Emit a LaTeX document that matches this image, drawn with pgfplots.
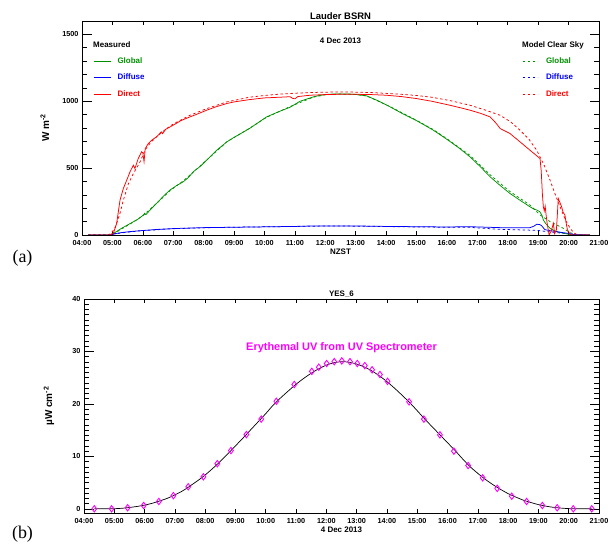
\documentclass[border=0pt]{standalone}
\usepackage{pgfplots}
\pgfplotsset{compat=1.18}
\usepackage{fontspec}
\setmainfont{Liberation Sans}
\newfontfamily\seriffont{Liberation Serif}

\definecolor{igreen}{RGB}{0,145,0}
\definecolor{iblue}{RGB}{0,0,255}
\definecolor{ired}{RGB}{255,0,0}
\definecolor{imag}{RGB}{255,0,255}

\newcommand\fs[1]{\bfseries\fontsize{#1}{#1}\selectfont}

\pgfplotsset{
  idl/.style={
    scale only axis, xmin=4, xmax=21,
    xtick={4,...,21},
    xticklabels={04:00,05:00,06:00,07:00,08:00,09:00,10:00,11:00,12:00,
                 13:00,14:00,15:00,16:00,17:00,18:00,19:00,20:00,21:00},
    tick align=inside,
    axis line style={line width=0.7bp},
    every tick/.style={black, line width=0.6bp},
    major tick length=9.5bp, minor tick length=5bp,
    xtick style={/pgfplots/major tick length=4bp},
    tick label style={font=\fs{7.3}},
    xticklabel style={yshift=-1.5bp},
    /pgf/number format/assume math mode=true,
    /pgf/number format/1000 sep={},
    xlabel style={at={(axis description cs:0.5,-0.08)}, anchor=center, font=\fs{8}},
    ylabel style={anchor=center, font=\fs{10}},
    title style={anchor=south, inner sep=0pt, yshift=-4.5bp},
  },
  meas/.style={line width=0.75bp},
  model/.style={line width=0.75bp, dash pattern=on 2.5bp off 2.5bp},
  % legend keys: a line sample and an empty gap before the text
  keyleg/.style 2 args={
    legend cell align=left,
    legend image code/.code={\draw[##1, line width=0.9bp] (0bp,0bp) -- (#1,0bp);
                             \path (#2,0bp);},
    legend style={draw=none, fill=none, inner sep=0pt, font=\fs{8}, row sep=8bp,
      nodes={inner sep=0.5bp, text height=6bp, text depth=1.5bp}},
  },
}

\begin{document}
\begin{tikzpicture}
\path[use as bounding box] (0,0) rectangle (613bp,544bp);

% (a) Lauder BSRN
\begin{axis}[idl,
    at={(82bp,309bp)}, anchor=south west, width=517bp, height=214bp,
    ymin=0, ymax=1600, ytick={0,500,1000,1500}, minor y tick num=4,
    title={Lauder BSRN}, title style={font=\fs{9.5}},
    xlabel={NZST},
    ylabel={W m\textsuperscript{-2}},
    ylabel style={at={(axis description cs:-0.072,0.5)}},
    keyleg={17bp}{23bp},
    legend style={at={(axis description cs:0.0213,0.834)}, anchor=north west},
  ]
\addplot[model, color=igreen, forget plot] coordinates {
(4.2,0)(4.9,0)(5.06,12)(5.3,45)(5.69,97)(6.02,148)(6.45,236)(6.89,330)(7.33,405)
(7.66,470)(8.1,560)(8.76,696)(9.5,797)(10.07,880)(10.84,960)(11.6,1030)(12.0,1048)
(12.5,1054)(13.0,1050)(13.36,1040)(14.13,960)(15.0,858)(15.55,788)(16.0,720)
(16.76,595)(17.42,450)(18.07,325)(18.73,224)(19.06,150)(19.39,100)(19.83,50)
(20.05,17)(20.3,0)(20.7,0)};
\addplot[model, color=iblue, forget plot] coordinates {
(4.2,0)(4.9,0)(5.03,6)(5.3,16)(5.91,31)(7.0,47)(8.0,54)(9.0,58)(10.0,61)(11.0,64)
(12.0,67)(12.5,67)(13.5,65)(15.0,60)(16.0,58)(16.76,57)(17.75,42)(18.95,35)
(19.5,20)(20.05,8)(20.3,0)(20.7,0)};
\addplot[model, color=ired, forget plot] coordinates {
(4.2,0)(4.85,0)(4.95,10)(5.1,60)(5.25,162)(5.36,261)(5.53,386)(5.69,460)(5.91,547)
(6.07,634)(6.25,690)(6.45,734)(6.75,790)(7.0,830)(7.55,895)(8.1,945)(8.76,995)
(9.5,1030)(10.0,1043)(10.5,1053)(11.0,1060)(11.5,1065)(12.0,1068)(12.5,1069)
(13.0,1068)(13.5,1065)(14.0,1059)(14.5,1052)(15.0,1043)(15.5,1030)(16.1,1005)
(16.76,970)(17.25,935)(17.75,895)(18.1,845)(18.4,784)(18.7,715)(18.95,634)
(19.2,520)(19.39,410)(19.55,310)(19.72,211)(19.9,110)(20.05,50)(20.18,15)
(20.3,0)(20.7,0)};

\addplot[meas, color=igreen] coordinates {
(4.2,0)(4.9,0)(5.06,15)(5.3,50)(5.5,75)(5.69,99)(5.85,120)(6.02,149)(6.06,162)
(6.1,152)(6.25,190)(6.45,236)(6.7,295)(6.89,336)(7.1,368)(7.33,398)(7.5,430)
(7.66,473)(7.9,515)(8.1,560)(8.4,628)(8.76,696)(9.0,730)(9.5,795)(10.07,883)
(10.5,925)(10.84,955)(11.17,1000)(11.6,1032)(11.8,1043)(12.0,1050)(12.25,1054)
(12.5,1055)(12.75,1054)(13.0,1051)(13.36,1040)(13.75,1002)(14.13,958)(14.5,912)
(15.0,855)(15.55,784)(16.0,715)(16.4,650)(16.76,584)(17.1,510)(17.42,435)
(17.75,370)(18.07,311)(18.4,260)(18.73,211)(18.85,195)(18.95,187)(19.05,175)
(19.12,150)(19.17,112)(19.25,85)(19.39,50)(19.55,30)(19.7,20)(19.9,10)(20.05,4)
(20.2,0)(20.7,0)};
\addlegendentry{\textcolor{igreen}{Global}}
\addplot[meas, color=iblue] coordinates {
(4.2,0)(4.9,0)(5.03,8)(5.3,18)(5.6,26)(5.91,32)(6.5,42)(7.0,48)(8.0,55)(9.0,58)
(10.0,61)(11.0,64)(11.5,67)(12.0,68)(12.5,68)(13.0,67)(13.5,66)(14.0,64)(15.0,62)
(16.0,60)(16.76,62)(17.75,55)(18.73,55)(18.85,65)(18.95,80)(19.05,78)(19.11,70)
(19.22,40)(19.4,32)(19.6,25)(19.8,18)(20.05,10)(20.2,2)(20.7,0)};
\addlegendentry{\textcolor{iblue}{Diffuse}}
\addplot[meas, color=ired] coordinates {
(4.2,0)(4.9,0)(5.03,12)(5.14,87)(5.25,261)(5.36,348)(5.47,410)(5.58,473)(5.69,522)
(5.74,497)(5.85,572)(5.96,622)(6.0,615)(6.04,547)(6.08,647)(6.18,684)(6.3,710)
(6.45,734)(6.61,771)(6.65,758)(6.75,790)(7.0,821)(7.25,855)(7.55,883)(7.8,905)
(8.1,933)(8.4,958)(8.76,983)(9.0,995)(9.5,1012)(10.0,1025)(10.5,1030)(10.84,1034)
(10.92,1022)(11.0,1018)(11.1,1035)(11.5,1045)(12.0,1050)(12.5,1052)(13.0,1052)
(13.5,1050)(14.0,1045)(14.5,1035)(15.0,1020)(15.5,1000)(16.1,970)(16.5,948)
(16.76,933)(17.1,910)(17.42,883)(17.6,840)(17.75,796)(18.07,759)(18.4,697)
(18.73,634)(19.06,572)(19.1,480)(19.14,300)(19.17,211)(19.2,180)(19.23,215)
(19.26,150)(19.3,80)(19.36,0)(19.43,30)(19.5,87)(19.54,10)(19.6,40)(19.63,150)
(19.66,273)(19.72,240)(19.77,211)(19.82,170)(19.88,149)(19.92,90)(19.96,40)
(20.05,5)(20.1,0)(20.7,0)};
\addlegendentry{\textcolor{ired}{Direct}}

\node[anchor=center, font=\fs{8}] at (axis description cs:0.5,0.909) {4 Dec 2013};
\node[anchor=west, inner sep=0pt, font=\fs{8}] at (axis description cs:0.0213,0.888) {Measured};
\node[anchor=west, inner sep=0pt, font=\fs{8}] at (axis description cs:0.851,0.888) {Model Clear Sky};
\end{axis}

% legend of the model curves
\begin{axis}[
    at={(82bp,309bp)}, anchor=south west, width=517bp, height=214bp,
    scale only axis, hide axis, xmin=0, xmax=1, ymin=0, ymax=1,
    keyleg={15bp}{22.5bp},
    legend style={at={(axis description cs:0.851,0.834)}, anchor=north west},
  ]
\addlegendimage{model, color=igreen}
\addlegendentry{\textcolor{igreen}{Global}}
\addlegendimage{model, color=iblue}
\addlegendentry{\textcolor{iblue}{Diffuse}}
\addlegendimage{model, color=ired}
\addlegendentry{\textcolor{ired}{Direct}}
\end{axis}

% (b) YES_6
\begin{axis}[idl,
    at={(84bp,31bp)}, anchor=south west, width=515bp, height=214bp,
    ymin=-0.8, ymax=40, ytick={0,10,20,30,40}, minor y tick num=9,
    title={YES\_6}, title style={font=\fs{8}},
    xlabel={4 Dec 2013},
    ylabel={\textmu W cm\textsuperscript{-2}},
    ylabel style={at={(axis description cs:-0.068,0.5)}},
  ]
\addplot[black, line width=0.7bp, smooth, tension=0.4] coordinates {
(4.34,0)(4.75,0)(5.0,0.02)(5.25,0.1)(5.5,0.25)(5.75,0.45)(6.0,0.7)(6.25,1.05)
(6.5,1.5)(6.75,2.0)(7.0,2.65)(7.25,3.4)(7.5,4.35)(7.75,5.35)(8.0,6.45)(8.25,7.7)
(8.5,9.05)(8.75,10.5)(9.0,12.0)(9.25,13.5)(9.5,15.05)(9.75,16.6)(10.0,18.15)
(10.25,19.8)(10.5,21.2)(10.75,22.5)(11.0,23.75)(11.25,24.85)(11.5,25.85)
(11.75,26.7)(12.0,27.4)(12.25,27.85)(12.5,28.05)(12.75,27.95)(13.0,27.6)
(13.25,27.05)(13.5,26.3)(13.75,25.35)(14.0,24.25)(14.25,23.0)(14.5,21.65)
(14.75,20.25)(15.0,18.7)(15.25,17.1)(15.5,15.6)(15.75,14.1)(16.0,12.6)(16.25,11.1)
(16.5,9.5)(16.75,8.0)(17.0,6.75)(17.25,5.6)(17.5,4.6)(17.75,3.7)(18.0,2.9)
(18.25,2.25)(18.5,1.65)(18.75,1.2)(19.0,0.8)(19.25,0.5)(19.5,0.28)(19.75,0.13)
(20.0,0.04)(20.25,0)(20.76,0)};
\addplot[only marks, mark=diamond, mark size=3.2bp, color=imag,
         mark options={line width=0.9bp, fill=none}] coordinates {
(4.34,0)(4.91,0)(5.44,0.2)(5.97,0.63)(6.47,1.4)(6.95,2.5)(7.44,4.2)(7.94,6.1)
(8.40,8.6)(8.85,11.1)(9.36,14.15)(9.85,17.1)(10.35,20.5)(10.94,23.7)(11.52,26.2)
(11.75,27.0)(12.01,27.7)(12.26,28.05)(12.51,28.2)(12.78,28.05)(13.02,27.7)
(13.27,27.3)(13.51,26.5)(13.77,25.6)(14.02,24.3)(14.73,20.4)(15.22,17.1)
(15.75,14.1)(16.21,11.0)(16.68,8.25)(17.16,5.9)(17.64,3.9)(18.12,2.4)(18.61,1.4)
(19.13,0.63)(19.62,0.2)(20.15,0)(20.76,0)};
\node[anchor=center, font=\fs{11}, text=imag] at (axis description cs:0.5,0.773)
  {Erythemal UV from UV Spectrometer};
\end{axis}

\node[font=\seriffont\fontsize{18}{18}\selectfont] at (22.5bp,285.5bp) {(a)};
\node[font=\seriffont\fontsize{18}{18}\selectfont] at (22.5bp,9.5bp) {(b)};
\end{tikzpicture}
\end{document}
